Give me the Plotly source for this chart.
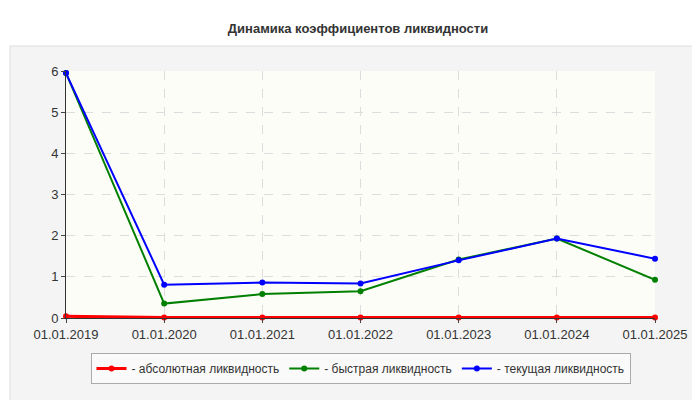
import plotly.graph_objects as go

dates = ["01.01.2019","01.01.2020","01.01.2021","01.01.2022","01.01.2023","01.01.2024","01.01.2025"]
absolute = [0.04,0.01,0.01,0.01,0.01,0.01,0.01]
quick = [5.95,0.35,0.58,0.65,1.42,1.93,0.93]
current = [5.95,0.81,0.86,0.84,1.40,1.93,1.44]
names = ["- абсолютная ликвидность","- быстрая ликвидность","- текущая ликвидность"]
colors = ["#ff0000","#008000","#0000ff"]

fig = go.Figure()
for vals, nm, c in [(absolute,names[0],colors[0]),(quick,names[1],colors[1]),(current,names[2],colors[2])]:
    fig.add_trace(go.Scatter(x=list(range(len(dates))), y=vals, name=nm, mode="lines+markers",
                             line=dict(color=c, width=2 if c!="#ff0000" else 3), marker=dict(color=c, size=6),
                             cliponaxis=False))

W, H = 700, 400
L, R, T, B = 58, 53, 63, 90
pw, ph = W-L-R, H-T-B
def px(x): return (x-L)/pw
def py(y): return (H-B-y)/ph
fig.add_shape(type="rect", xref="paper", yref="paper", x0=px(2), x1=px(696), y0=py(396), y1=py(38),
              line=dict(color="#dddddd", width=1), fillcolor="#f4f4f4", layer="below")
fig.add_shape(type="rect", xref="paper", yref="paper", x0=0, x1=1, y0=0, y1=1,
              line=dict(width=0), fillcolor="#fdfdf8", layer="below")
fig.update_layout(
    width=W, height=H, paper_bgcolor="#ffffff", plot_bgcolor="#fdfdf8",
    margin=dict(l=L, r=R, t=T, b=B),
    title=dict(text="<b>Динамика коэффициентов ликвидности</b>", x=0.5, y=1-20/H, xanchor="center", yanchor="middle",
               font=dict(family="Arial", size=13, color="#333")),
    font=dict(family="Arial", size=12, color="#333"),
    xaxis=dict(tickmode="array", tickvals=list(range(len(dates))), ticktext=dates, range=[0,6],
               showgrid=True, gridcolor="#dddddd", griddash="dash", showline=True, linecolor="#333",
               ticks="outside", ticklen=4, zeroline=False, automargin=False, tickfont=dict(size=13)),
    yaxis=dict(range=[0,6], dtick=1, showgrid=True, gridcolor="#dddddd", griddash="dash",
               showline=True, linecolor="#333", ticks="outside", ticklen=4, zeroline=False,
               automargin=False, tickfont=dict(size=13)),
    legend=dict(orientation="h", x=0.5, xanchor="center", y=py(345), yanchor="top",
                bgcolor="#fafafa", bordercolor="#aaaaaa", borderwidth=1,
                font=dict(size=12, color="#333"), itemwidth=30),
)
fig.write_html("out.html")
